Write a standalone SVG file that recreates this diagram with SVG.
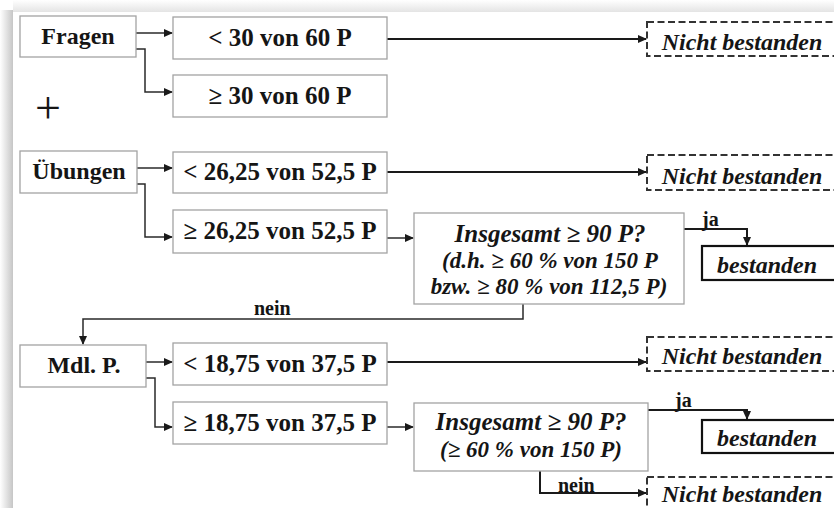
<svg xmlns="http://www.w3.org/2000/svg" width="834" height="508" viewBox="0 0 834 508">
  <defs>
    <linearGradient id="shadeLeft" x1="0" y1="0" x2="1" y2="0">
      <stop offset="0" stop-color="#ffffff"/>
      <stop offset="1" stop-color="#c6c6c6"/>
    </linearGradient>
    <linearGradient id="shadeTop" x1="0" y1="0" x2="0" y2="1">
      <stop offset="0" stop-color="#ffffff"/>
      <stop offset="1" stop-color="#e4e4e4"/>
    </linearGradient>
    <marker id="arrow" markerWidth="9" markerHeight="8" refX="8" refY="4" orient="auto" markerUnits="userSpaceOnUse">
      <path d="M0,0 L9,4 L0,8 Z" fill="#1a1a1a"/>
    </marker>
    <style>
      .box { fill: #ffffff; stroke: #a3a3a3; stroke-width: 1.3; }
      .pass { fill: #ffffff; stroke: #111111; stroke-width: 2.2; }
      .fail { fill: #ffffff; stroke: #333333; stroke-width: 2; stroke-dasharray: 7 3.5; }
      .lbl { font-family: "Liberation Serif", "Times New Roman", serif; font-weight: bold; font-size: 24px; fill: #151515; text-anchor: middle; }
      .cmp { font-size: 25px; }
      .it { font-style: italic; }
      .head { font-size: 25px; }
      .sub { font-size: 23px; }
      .tag { font-family: "Liberation Serif", "Times New Roman", serif; font-weight: bold; font-size: 20px; fill: #151515; }
      .link { fill: none; stroke: #2a2a2a; stroke-width: 1.5; }
      .strong { stroke: #1a1a1a; stroke-width: 2; }
    </style>
  </defs>

  <!-- page with soft drop shadow on the top and left -->
  <rect x="0" y="0" width="834" height="508" fill="#ffffff"/>
  <rect x="13" y="0" width="821" height="12" fill="url(#shadeTop)"/>
  <rect x="0" y="10" width="13" height="498" fill="url(#shadeLeft)"/>

  <!-- connectors -->
  <g id="connectors">
    <path class="link" d="M136,33 H172" marker-end="url(#arrow)"/>
    <path class="link" d="M136,49 H145 V92 H172" marker-end="url(#arrow)"/>
    <path class="link strong" d="M387,39 H646" marker-end="url(#arrow)"/>

    <path class="link" d="M137,168 H172" marker-end="url(#arrow)"/>
    <path class="link" d="M137,184 H145 V237 H172" marker-end="url(#arrow)"/>
    <path class="link strong" d="M387,172 H646" marker-end="url(#arrow)"/>
    <path class="link" d="M387,238 H413" marker-end="url(#arrow)"/>
    <path class="link strong" d="M684,229 H747 V245" marker-end="url(#arrow)"/>
    <path class="link" d="M523,304 V319 H83 V344" marker-end="url(#arrow)"/>

    <path class="link" d="M146,362 H172" marker-end="url(#arrow)"/>
    <path class="link" d="M146,378 H155 V427 H172" marker-end="url(#arrow)"/>
    <path class="link strong" d="M387,362 H646" marker-end="url(#arrow)"/>
    <path class="link" d="M387,427 H413" marker-end="url(#arrow)"/>
    <path class="link strong" d="M648,410 H747 V419" marker-end="url(#arrow)"/>
    <path class="link strong" d="M540,471 V493 H646" marker-end="url(#arrow)"/>

    <text class="tag" x="702" y="226">ja</text>
    <text class="tag" x="254" y="315">nein</text>
    <text class="tag" x="675" y="407">ja</text>
    <text class="tag" x="558" y="492">nein</text>
  </g>

  <!-- row 1: Fragen -->
  <g id="fragen">
    <rect class="box" x="20" y="16" width="116" height="41"/>
    <text class="lbl" x="78" y="44">Fragen</text>
  </g>
  <g id="fragen-low">
    <rect class="box" x="173" y="17" width="214" height="42"/>
    <text class="lbl cmp" x="280" y="46">&lt; 30 von 60 P</text>
  </g>
  <g id="fragen-high">
    <rect class="box" x="173" y="75" width="214" height="42"/>
    <text class="lbl cmp" x="280" y="104">≥ 30 von 60 P</text>
  </g>
  <g id="fail-1">
    <rect class="fail" x="647" y="22" width="200" height="34"/>
    <text class="lbl it" x="742" y="50">Nicht bestanden</text>
  </g>

  <text x="48" y="123" font-family="Liberation Serif, serif" font-size="46" fill="#151515" text-anchor="middle">+</text>

  <!-- row 2: Übungen -->
  <g id="uebungen">
    <rect class="box" x="20" y="151" width="117" height="42"/>
    <text class="lbl" x="79" y="179">Übungen</text>
  </g>
  <g id="uebungen-low">
    <rect class="box" x="173" y="152" width="214" height="41"/>
    <text class="lbl cmp" x="280" y="180">&lt; 26,25 von 52,5 P</text>
  </g>
  <g id="uebungen-high">
    <rect class="box" x="173" y="210" width="214" height="43"/>
    <text class="lbl cmp" x="280" y="239">≥ 26,25 von 52,5 P</text>
  </g>
  <g id="fail-2">
    <rect class="fail" x="647" y="155" width="200" height="35"/>
    <text class="lbl it" x="742" y="184">Nicht bestanden</text>
  </g>
  <g id="check-1">
    <rect class="box" x="414" y="213" width="270" height="91"/>
    <text class="lbl it head" x="550" y="242">Insgesamt ≥ 90 P?</text>
    <text class="lbl it sub" x="550" y="268">(d.h. ≥ 60 % von 150 P</text>
    <text class="lbl it sub" x="549" y="294">bzw. ≥ 80 % von 112,5 P)</text>
  </g>
  <g id="pass-1">
    <rect class="pass" x="702" y="246" width="150" height="34"/>
    <text class="lbl it" x="767" y="273">bestanden</text>
  </g>

  <!-- row 3: mündliche Prüfung -->
  <g id="muendlich">
    <rect class="box" x="20" y="345" width="126" height="42"/>
    <text class="lbl" x="84" y="373">Mdl. P.</text>
  </g>
  <g id="muendlich-low">
    <rect class="box" x="173" y="343" width="214" height="42"/>
    <text class="lbl cmp" x="280" y="372">&lt; 18,75 von 37,5 P</text>
  </g>
  <g id="muendlich-high">
    <rect class="box" x="173" y="402" width="214" height="42"/>
    <text class="lbl cmp" x="280" y="431">≥ 18,75 von 37,5 P</text>
  </g>
  <g id="fail-3">
    <rect class="fail" x="647" y="337" width="200" height="34"/>
    <text class="lbl it" x="742" y="364">Nicht bestanden</text>
  </g>
  <g id="check-2">
    <rect class="box" x="414" y="403" width="234" height="68"/>
    <text class="lbl it head" x="531" y="430">Insgesamt ≥ 90 P?</text>
    <text class="lbl it sub" x="531" y="457">(≥ 60 % von 150 P)</text>
  </g>
  <g id="pass-2">
    <rect class="pass" x="702" y="420" width="150" height="33"/>
    <text class="lbl it" x="767" y="446">bestanden</text>
  </g>
  <g id="fail-4">
    <rect class="fail" x="647" y="477" width="200" height="40"/>
    <text class="lbl it" x="742" y="502">Nicht bestanden</text>
  </g>
</svg>
